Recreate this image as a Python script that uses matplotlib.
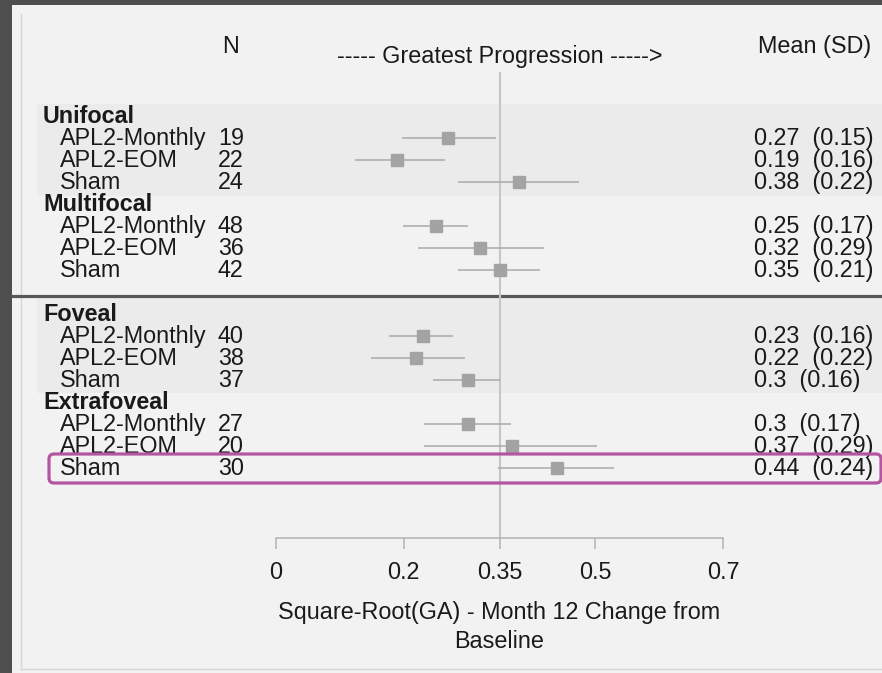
import matplotlib.pyplot as plt
from matplotlib.patches import Rectangle, FancyBboxPatch
from matplotlib.lines import Line2D
from matplotlib.transforms import IdentityTransform

# data
groups = ["Unifocal", "Multifocal", "Foveal", "Extrafoveal"]
arms = ["APL2-Monthly", "APL2-EOM", "Sham"]
n_pts = [19, 22, 24, 48, 36, 42, 40, 38, 37, 27, 20, 30]
means = [0.27, 0.19, 0.38, 0.25, 0.32, 0.35, 0.23, 0.22, 0.3, 0.3, 0.37, 0.44]
sds = [0.15, 0.16, 0.22, 0.17, 0.29, 0.21, 0.16, 0.22, 0.16, 0.17, 0.29, 0.24]
ci_low = [0.198, 0.124, 0.285, 0.199, 0.222, 0.285, 0.177, 0.149, 0.246, 0.232, 0.232, 0.347]
ci_high = [0.344, 0.264, 0.474, 0.300, 0.419, 0.414, 0.277, 0.296, 0.350, 0.368, 0.502, 0.529]
ref_value = 0.35
xticks = [0, 0.2, 0.35, 0.5, 0.7]
xtick_labels = ["0", "0.2", "0.35", "0.5", "0.7"]

plt.rcParams["font.family"] = ["Liberation Sans", "DejaVu Sans"]
plt.rcParams["font.size"] = 16.8
txt = "#1a1a1a"

W, H = 882, 673
fig = plt.figure(figsize=(W / 100, H / 100), dpi=100)
fig.patch.set_facecolor("#4e4e4e")

# light panel + faint inner frame
fig.add_artist(Rectangle((12 / W, 0), 1 - 12 / W, (H - 5) / H, transform=fig.transFigure,
                         fc="#f2f2f2", ec="none", zorder=-2))
fig.add_artist(Line2D([21 / W, 21 / W], [(H - 14) / H, (H - 669) / H], transform=fig.transFigure,
                      color="#d6d6d6", lw=1, zorder=-1))
fig.add_artist(Line2D([21 / W, 1], [(H - 669) / H, (H - 669) / H], transform=fig.transFigure,
                      color="#d6d6d6", lw=1, zorder=-1))

ax = fig.add_axes([276 / W, 1 - 538 / H, 447 / W, (538 - 72) / H])
ax.set_facecolor("none")
ax.set_xlim(0, 0.7)
ax.set_ylim(19.16, -2.02)


def ax_x(px):
    # figure pixel -> axes fraction (x)
    return (px - 276) / 447


def dx(px):
    return (px - 276) / 447 * 0.7


def dy(py):
    return (py - 116.5) / 22


header_rows = [0, 4, 9, 13]
row_y = []
for h in header_rows:
    row_y += [h + 1, h + 2, h + 3]

# shaded group bands
ax.axhspan(-0.57, 3.6, xmin=ax_x(37), xmax=ax_x(882), color="#ebebeb", lw=0, zorder=0, clip_on=False)
ax.axhspan(8.25, 12.57, xmin=ax_x(37), xmax=ax_x(882), color="#ebebeb", lw=0, zorder=0, clip_on=False)
# separator between the two panels
ax.axhline(dy(296.5), xmin=ax_x(12), xmax=ax_x(882), color="#575757", lw=2.3, zorder=1, clip_on=False)

ax.axvline(ref_value, color="#c6c6c6", lw=1.5, zorder=1)

ax.hlines(row_y, ci_low, ci_high, color="#a9a9a9", lw=1.1, zorder=2)
ax.plot(means, row_y, "s", color="#a3a3a3", ms=8, zorder=3)

# left text columns
for g, h in zip(groups, header_rows):
    ax.text(dx(43), h, g, fontweight="bold", va="center", ha="left", color=txt, clip_on=False)
i = 0
for h in header_rows:
    for a in arms:
        y = row_y[i]
        ax.text(dx(60), y, a, va="center", ha="left", color=txt, clip_on=False)
        ax.text(dx(218), y, str(n_pts[i]), va="center", ha="left", color=txt, clip_on=False)
        ax.text(dx(754), y, f"{means[i]:g}  ({sds[i]:.2f})", va="center", ha="left", color=txt,
                clip_on=False)
        i += 1

ax.text(dx(231), dy(47), "N", va="center", ha="center", color=txt, clip_on=False)
ax.text(dx(758), dy(47), "Mean (SD)", va="center", ha="left", color=txt, clip_on=False)
ax.text(ref_value, dy(57), "----- Greatest Progression ----->", va="center", ha="center",
        color=txt, clip_on=False)

# highlight box around the extrafoveal sham row
fig.add_artist(FancyBboxPatch((49, H - 483), 832, 29, boxstyle="round,pad=0,rounding_size=5",
                              transform=IdentityTransform(), fill=False, ec="#b4559f", lw=2.3,
                              zorder=5))

for s in ["left", "top", "right"]:
    ax.spines[s].set_visible(False)
ax.spines["bottom"].set_color("#b3b3b3")
ax.spines["bottom"].set_linewidth(1.1)
ax.set_yticks([])
ax.set_xticks(xticks, xtick_labels)
ax.tick_params(axis="x", direction="out", length=8, width=1.1, color="#b3b3b3",
               labelcolor=txt, pad=8.5)
ax.set_xlabel("Square-Root(GA) - Month 12 Change from\nBaseline", color=txt, labelpad=12.5,
              linespacing=1.32)

fig.savefig("out.png", dpi=100, facecolor=fig.get_facecolor())
